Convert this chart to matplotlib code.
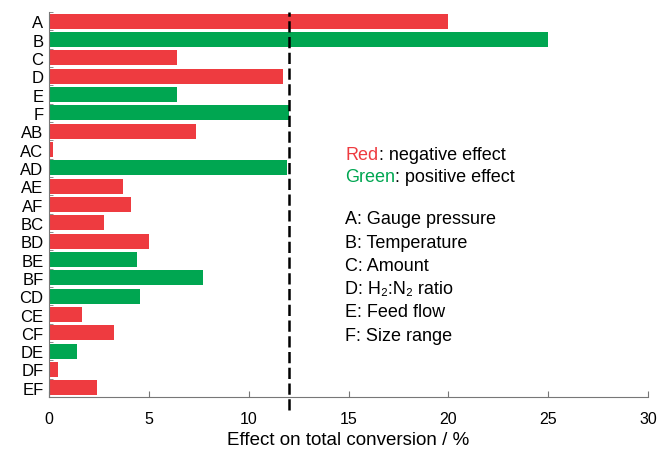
import numpy as np
import matplotlib
matplotlib.use('Agg')
import matplotlib.pyplot as plt

plt.rcParams['font.family'] = ['Liberation Sans', 'DejaVu Sans']

factors = ['A', 'B', 'C', 'D', 'E', 'F', 'AB', 'AC', 'AD', 'AE', 'AF',
    'BC', 'BD', 'BE', 'BF', 'CD', 'CE', 'CF', 'DE', 'DF', 'EF']
effects = [20.0, 25.0, 6.4, 11.7, 6.4, 12.0, 7.35, 0.2, 11.9, 3.7, 4.1,
    2.75, 5.0, 4.4, 7.7, 4.55, 1.65, 3.25, 1.4, 0.45, 2.4]
positive = [0, 1, 0, 0, 1, 1, 0, 0, 1, 0, 0,
    0, 0, 1, 1, 1, 0, 0, 1, 0, 0]
threshold = 12.0

factorNames = ['A: Gauge pressure', 'B: Temperature', 'C: Amount',
    'D: H\u2082:N\u2082 ratio', 'E: Feed flow', 'F: Size range']

red = '#ee3b40'
green = '#00a651'

fig = plt.figure(figsize=(6.58, 4.52), dpi=100)
ax = fig.add_axes([0.0745, 0.1195, 0.9105, 0.8515])

y = np.arange(len(factors))
colors = [green if p else red for p in positive]
ax.barh(y, effects, height=0.82, color=colors, edgecolor='none')

ax.axvline(threshold, ymin=-0.035, ymax=1.0, color='black', lw=1.8,
    dashes=(4.5, 1.8), clip_on=False)

ax.set_xlim(0, 30)
ax.set_ylim(len(factors) - 0.5, -0.5)
ax.set_yticks(y)
ax.set_yticklabels(factors, fontsize=12)
ax.set_yticks(np.arange(len(factors) + 1) - 0.5, minor=True)
ax.tick_params(axis='y', which='major', length=0, pad=4)
ax.tick_params(axis='y', which='minor', length=3, direction='in', color='#777777')
ax.set_xticks([0, 5, 10, 15, 20, 25, 30])
ax.tick_params(axis='x', direction='in', length=4, color='#777777', labelsize=11.5, pad=10)
ax.set_xlabel('Effect on total conversion / %', fontsize=13.5, labelpad=4)

for s in ['top', 'right']:
    ax.spines[s].set_visible(False)
for s in ['left', 'bottom']:
    ax.spines[s].set_color('#777777')

# colour key and factor names
fx = 0.525
fs = 13
t = fig.text(fx, 0.637, 'Red', color=red, fontsize=fs, va='bottom')
ax.annotate(': negative effect', xy=(1, 0), xycoords=t, fontsize=fs, va='bottom')
t = fig.text(fx, 0.588, 'Green', color=green, fontsize=fs, va='bottom')
ax.annotate(': positive effect', xy=(1, 0), xycoords=t, fontsize=fs, va='bottom')
for i, name in enumerate(factorNames):
    fig.text(fx, 0.504 - i * 0.0516, name, fontsize=fs, va='baseline')

fig.savefig('out.png', dpi=100)
